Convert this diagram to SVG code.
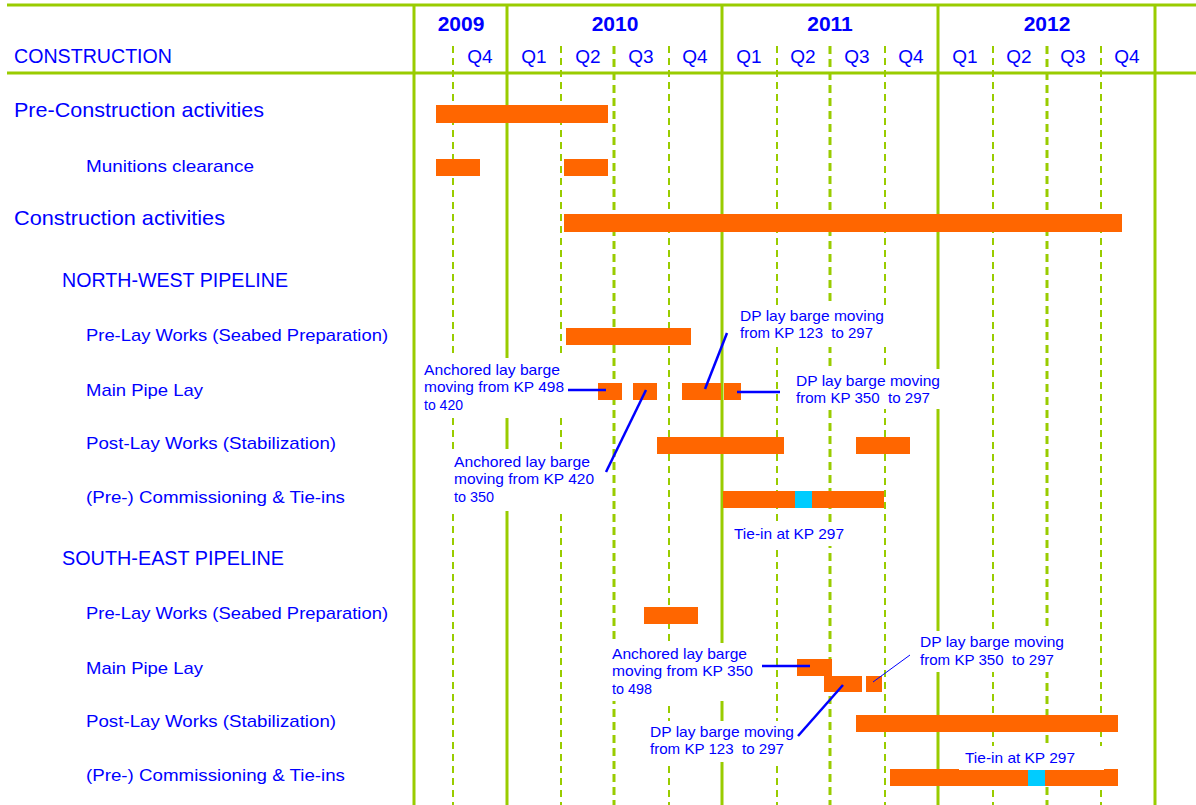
<svg xmlns="http://www.w3.org/2000/svg" width="1196" height="805" viewBox="0 0 1196 805">
<style>
.gs{stroke:#99CC00;stroke-width:3;fill:none}
.gd{stroke:#99CC00;stroke-width:2;stroke-dasharray:7 5;fill:none}
.gdt{stroke:#99CC00;stroke-width:3;stroke-dasharray:8 5;fill:none}
.bar{fill:#FF6600}
.tie{fill:#00CCFF}
.box{fill:#FFFFFF}
text{font-family:"Liberation Sans",Arial,sans-serif;fill:#0000FF}
.yr{font-size:21px;font-weight:bold;text-anchor:middle}
.q{font-size:19px;text-anchor:middle}
.big{font-size:21px}
.pipe{font-size:20px}
.sub{font-size:17px}
.ann{font-size:15px;white-space:pre}
.lead{stroke:#0000FF;stroke-width:2.5;fill:none}
.thin{stroke:#0000FF;stroke-width:1;fill:none}
</style>
<rect width="1196" height="805" fill="#FFFFFF"/>
<g id="grid">
<line class="gs" x1="7" y1="5" x2="1196" y2="5"/>
<line class="gs" x1="7" y1="73" x2="1196" y2="73"/>
<line class="gs" x1="414" y1="4" x2="414" y2="805"/>
<line class="gs" x1="507" y1="4" x2="507" y2="805"/>
<line class="gs" x1="722" y1="4" x2="722" y2="805"/>
<line class="gs" x1="938" y1="4" x2="938" y2="805"/>
<line class="gs" x1="1155" y1="4" x2="1155" y2="805"/>
<line class="gd" x1="453" y1="46" x2="453" y2="805"/>
<line class="gd" x1="561" y1="46" x2="561" y2="805"/>
<line class="gdt" x1="614" y1="46" x2="614" y2="805"/>
<line class="gd" x1="669" y1="46" x2="669" y2="805"/>
<line class="gd" x1="777" y1="46" x2="777" y2="805"/>
<line class="gdt" x1="830" y1="46" x2="830" y2="805"/>
<line class="gd" x1="885" y1="46" x2="885" y2="805"/>
<line class="gd" x1="993" y1="46" x2="993" y2="805"/>
<line class="gdt" x1="1047" y1="46" x2="1047" y2="805"/>
<line class="gd" x1="1101" y1="46" x2="1101" y2="805"/>
</g>
<g id="header">
<text class="big" x="14" y="63" textLength="158" lengthAdjust="spacingAndGlyphs">CONSTRUCTION</text>
<text class="yr" x="461" y="31">2009</text>
<text class="yr" x="615" y="31">2010</text>
<text class="yr" x="830" y="31">2011</text>
<text class="yr" x="1047" y="31">2012</text>
<text class="q" x="480" y="63">Q4</text>
<text class="q" x="534" y="63">Q1</text>
<text class="q" x="588" y="63">Q2</text>
<text class="q" x="641" y="63">Q3</text>
<text class="q" x="695" y="63">Q4</text>
<text class="q" x="749" y="63">Q1</text>
<text class="q" x="803" y="63">Q2</text>
<text class="q" x="857" y="63">Q3</text>
<text class="q" x="911" y="63">Q4</text>
<text class="q" x="965" y="63">Q1</text>
<text class="q" x="1019" y="63">Q2</text>
<text class="q" x="1073" y="63">Q3</text>
<text class="q" x="1127" y="63">Q4</text>
</g>
<g id="pre-construction">
<text class="big" x="14" y="117" textLength="250" lengthAdjust="spacingAndGlyphs">Pre-Construction activities</text>
<rect class="bar" x="436" y="105" width="172" height="18"/>
</g>
<g id="munitions">
<text class="sub" x="86" y="172" textLength="168" lengthAdjust="spacingAndGlyphs">Munitions clearance</text>
<rect class="bar" x="436" y="159" width="44" height="17"/>
<rect class="bar" x="564" y="159" width="44" height="17"/>
</g>
<g id="construction">
<text class="big" x="14" y="225" textLength="211" lengthAdjust="spacingAndGlyphs">Construction activities</text>
<rect class="bar" x="564" y="214" width="558" height="18"/>
</g>
<g id="nw-pipeline">
<text class="pipe" x="62" y="287" textLength="226" lengthAdjust="spacingAndGlyphs">NORTH-WEST PIPELINE</text>
</g>
<g id="nw-prelay">
<text class="sub" x="86" y="341" textLength="302" lengthAdjust="spacingAndGlyphs">Pre-Lay Works (Seabed Preparation)</text>
<rect class="bar" x="566" y="328" width="125" height="17"/>
</g>
<g id="nw-mainlay">
<text class="sub" x="86" y="396" textLength="117" lengthAdjust="spacingAndGlyphs">Main Pipe Lay</text>
<rect class="bar" x="598" y="383" width="24" height="17"/>
<rect class="bar" x="633" y="383" width="24" height="17"/>
<rect class="bar" x="682" y="383" width="39" height="17"/>
<rect class="bar" x="724" y="383" width="17" height="17"/>
</g>
<g id="nw-postlay">
<text class="sub" x="86" y="449" textLength="250" lengthAdjust="spacingAndGlyphs">Post-Lay Works (Stabilization)</text>
<rect class="bar" x="657" y="437" width="127" height="17"/>
<rect class="bar" x="856" y="437" width="54" height="17"/>
</g>
<g id="nw-commissioning">
<text class="sub" x="86" y="503" textLength="259" lengthAdjust="spacingAndGlyphs">(Pre-) Commissioning &amp; Tie-ins</text>
<rect class="bar" x="723" y="491" width="161" height="17"/>
<rect class="tie" x="795" y="491" width="17" height="17"/>
</g>
<g id="se-pipeline">
<text class="pipe" x="62" y="565" textLength="222" lengthAdjust="spacingAndGlyphs">SOUTH-EAST PIPELINE</text>
</g>
<g id="se-prelay">
<text class="sub" x="86" y="619" textLength="302" lengthAdjust="spacingAndGlyphs">Pre-Lay Works (Seabed Preparation)</text>
<rect class="bar" x="644" y="607" width="54" height="17"/>
</g>
<g id="se-mainlay">
<text class="sub" x="86" y="674" textLength="117" lengthAdjust="spacingAndGlyphs">Main Pipe Lay</text>
<rect class="bar" x="797" y="659" width="35" height="17"/>
<rect class="bar" x="824" y="676" width="38" height="16"/>
<rect class="bar" x="866" y="676" width="16" height="16"/>
</g>
<g id="se-postlay">
<text class="sub" x="86" y="727" textLength="250" lengthAdjust="spacingAndGlyphs">Post-Lay Works (Stabilization)</text>
<rect class="bar" x="856" y="715" width="262" height="17"/>
</g>
<g id="se-commissioning">
<text class="sub" x="86" y="781" textLength="259" lengthAdjust="spacingAndGlyphs">(Pre-) Commissioning &amp; Tie-ins</text>
<rect class="bar" x="890" y="769" width="228" height="17"/>
<rect class="tie" x="1028" y="769" width="17" height="17"/>
</g>
<g id="annotations">
<g id="ann-nw-dp1">
<rect class="box" x="733" y="305" width="158" height="42"/>
<text class="ann" x="740" y="321" textLength="144" lengthAdjust="spacingAndGlyphs">DP lay barge moving</text>
<text class="ann" x="740" y="338" textLength="133" lengthAdjust="spacingAndGlyphs">from KP 123  to 297</text>
</g>
<g id="ann-nw-dp2">
<rect class="box" x="789" y="369" width="157" height="40"/>
<text class="ann" x="796" y="386" textLength="144" lengthAdjust="spacingAndGlyphs">DP lay barge moving</text>
<text class="ann" x="796" y="403" textLength="134" lengthAdjust="spacingAndGlyphs">from KP 350  to 297</text>
</g>
<g id="ann-nw-anch1">
<rect class="box" x="419" y="358" width="152" height="60"/>
<text class="ann" x="424" y="375" textLength="136" lengthAdjust="spacingAndGlyphs">Anchored lay barge</text>
<text class="ann" x="424" y="392" textLength="140" lengthAdjust="spacingAndGlyphs">moving from KP 498</text>
<text class="ann" x="424" y="410" textLength="39" lengthAdjust="spacingAndGlyphs">to 420</text>
</g>
<g id="ann-nw-anch2">
<rect class="box" x="449" y="449" width="151" height="62"/>
<text class="ann" x="454" y="467" textLength="136" lengthAdjust="spacingAndGlyphs">Anchored lay barge</text>
<text class="ann" x="454" y="484" textLength="140" lengthAdjust="spacingAndGlyphs">moving from KP 420</text>
<text class="ann" x="454" y="502" textLength="40" lengthAdjust="spacingAndGlyphs">to 350</text>
</g>
<g id="ann-nw-tiein">
<rect class="box" x="728" y="523" width="122" height="23"/>
<text class="ann" x="734" y="539" textLength="110" lengthAdjust="spacingAndGlyphs">Tie-in at KP 297</text>
</g>
<g id="ann-se-anch">
<rect class="box" x="607" y="643" width="152" height="58"/>
<text class="ann" x="612" y="659" textLength="135" lengthAdjust="spacingAndGlyphs">Anchored lay barge</text>
<text class="ann" x="612" y="676" textLength="141" lengthAdjust="spacingAndGlyphs">moving from KP 350</text>
<text class="ann" x="612" y="694" textLength="40" lengthAdjust="spacingAndGlyphs">to 498</text>
</g>
<g id="ann-se-dp123">
<rect class="box" x="644" y="721" width="156" height="41"/>
<text class="ann" x="650" y="737" textLength="144" lengthAdjust="spacingAndGlyphs">DP lay barge moving</text>
<text class="ann" x="650" y="754" textLength="134" lengthAdjust="spacingAndGlyphs">from KP 123  to 297</text>
</g>
<g id="ann-se-dp350">
<rect class="box" x="914" y="631" width="157" height="41"/>
<text class="ann" x="920" y="647" textLength="144" lengthAdjust="spacingAndGlyphs">DP lay barge moving</text>
<text class="ann" x="920" y="665" textLength="134" lengthAdjust="spacingAndGlyphs">from KP 350  to 297</text>
</g>
<g id="ann-se-tiein">
<rect class="box" x="959" y="746" width="145" height="24"/>
<text class="ann" x="965" y="763" textLength="110" lengthAdjust="spacingAndGlyphs">Tie-in at KP 297</text>
</g>
</g>
<g id="connectors">
<line class="lead" x1="568" y1="390" x2="606" y2="390"/>
<line class="lead" x1="646" y1="390" x2="606" y2="472"/>
<line class="lead" x1="727" y1="333" x2="705" y2="389"/>
<line class="lead" x1="737" y1="392" x2="780" y2="392"/>
<line class="lead" x1="762" y1="666" x2="810" y2="666"/>
<line class="lead" x1="798" y1="736" x2="843" y2="685"/>
<line class="thin" x1="873" y1="682" x2="910" y2="655"/>
</g>
</svg>
